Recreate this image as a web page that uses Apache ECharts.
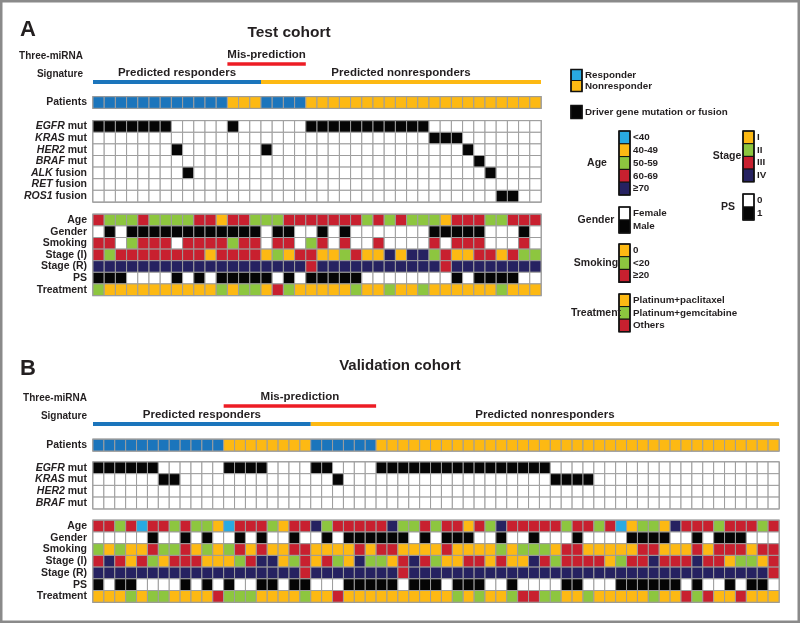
<!DOCTYPE html>
<html>
<head>
<meta charset="utf-8">
<script src="https://cdn.jsdelivr.net/npm/echarts@6/dist/echarts.min.js"></script>
<style>
  html, body { margin: 0; padding: 0; background: #fff; }
  #chart { width: 800px; height: 623px; }
</style>
</head>
<body>
<div id="chart"></div>
<script>
// 类别与配色
const responseLevels = ['Responder', 'Nonresponder'];
const ageLevels = ['<40', '40-49', '50-59', '60-69', '≥70'];
const genderLevels = ['Female', 'Male'];
const smokingLevels = ['0', '<20', '≥20'];
const stageLevels = ['I', 'II', 'III', 'IV'];
const psLevels = ['0', '1'];
const treatmentLevels = ['Platinum+paclitaxel', 'Platinum+gemcitabine', 'Others'];

const BLUE = '#1b75bc', CYAN = '#29aae1', YEL = '#fdb913', GRN = '#8dc63f',
  RED = '#c8202f', NAVY = '#262261', BLK = '#050505', WHT = '#ffffff', MISRED = '#ed1c24';
const patientColors = [BLUE, YEL];
const ageColors = [CYAN, YEL, GRN, RED, NAVY];
const genderColors = [WHT, BLK];
const smokingColors = [YEL, GRN, RED];
const stageColors = [YEL, GRN, RED, NAVY];
const psColors = [WHT, BLK];
const treatmentColors = [YEL, GRN, RED];

const clinicalRows = ['Age', 'Gender', 'Smoking', 'Stage (I)', 'Stage (R)', 'PS', 'Treatment'];
const clinicalPalettes = [ageColors, genderColors, smokingColors, stageColors, stageColors, psColors, treatmentColors];

// ---------- A: Test cohort (40 patients) ----------
// 0 = responder, 1 = nonresponder
const patientsA = [0,0,0,0,0,0,0,0,0,0,0,0,1,1,1,0,0,0,0,1,1,1,1,1,1,1,1,1,1,1,1,1,1,1,1,1,1,1,1,1];
const predRespEndA = 15;      // predicted responders: columns 0..14
const misA = [12, 19];        // mis-prediction span
const mutRowsA = ['EGFR mut', 'KRAS mut', 'HER2 mut', 'BRAF mut', 'ALK fusion', 'RET fusion', 'ROS1 fusion'];
const egfrA = [0,1,2,3,4,5,6,12,19,20,21,22,23,24,25,26,27,28,29];
const krasA = [30,31,32];
const her2A = [7,15,33];
const brafA = [34];
const alkA = [8,35];
const retA = [];
const ros1A = [36,37];
const ageA = [3,2,2,2,3,2,2,2,2,3,3,1,3,3,2,2,2,3,3,3,3,3,3,3,2,3,2,3,2,2,2,1,3,3,3,2,2,3,3,3];
const genderA = [0,1,0,1,1,1,1,1,1,1,1,1,1,1,1,0,1,1,0,0,1,0,1,0,0,0,0,0,0,0,1,1,1,1,1,0,0,0,1,0];
const smokingA = [2,2,null,1,2,2,2,null,2,2,2,2,1,2,2,null,2,2,null,1,2,null,2,null,null,2,null,null,null,null,2,null,2,2,2,null,null,null,2,null];
const stageA = [2,1,2,2,2,2,2,2,2,2,0,2,2,2,2,0,1,0,2,2,0,0,1,2,0,0,3,0,3,3,1,2,0,0,2,2,0,2,1,1];
const stageRA = [3,3,3,3,3,3,3,3,3,3,3,3,3,3,3,3,3,3,3,2,3,3,3,3,3,3,3,3,3,3,3,2,3,3,3,3,3,3,3,3];
const psA = [1,1,1,0,0,0,0,1,0,1,0,1,1,1,1,1,0,1,0,1,1,1,1,1,0,0,0,0,0,0,0,0,1,0,1,1,1,1,0,0];
const treatmentA = [1,0,0,0,0,0,0,0,0,0,0,1,0,1,1,0,2,1,0,0,0,0,0,1,0,0,1,0,0,1,0,0,0,0,0,0,1,0,0,0];

// ---------- B: Validation cohort (63 patients) ----------
const patientsB = [0,0,0,0,0,0,0,0,0,0,0,0,1,1,1,1,1,1,1,1,0,0,0,0,0,0,1,1,1,1,1,1,1,1,1,1,1,1,1,1,1,1,1,1,1,1,1,1,1,1,1,1,1,1,1,1,1,1,1,1,1,1,1];
const predRespEndB = 20;
const misB = [12, 26];
const mutRowsB = ['EGFR mut', 'KRAS mut', 'HER2 mut', 'BRAF mut'];
const egfrB = [0,1,2,3,4,5,12,13,14,15,20,21,26,27,28,29,30,31,32,33,34,35,36,37,38,39,40,41];
const krasB = [6,7,22,42,43,44,45];
const her2B = [];
const brafB = [];
const ageB = [3,3,2,3,0,3,3,2,3,2,2,1,0,3,3,3,2,1,3,3,4,2,3,3,3,3,3,4,2,2,3,2,3,3,1,3,2,4,3,3,3,3,3,2,3,3,2,3,0,1,2,2,1,4,3,3,3,2,3,3,3,2,3];
const genderB = [0,0,0,0,0,1,0,0,1,0,1,0,0,1,0,1,0,0,1,0,0,1,0,1,1,1,1,1,1,0,1,0,1,1,1,0,0,1,0,0,1,0,0,0,1,0,0,0,0,1,1,1,1,0,0,1,0,1,1,1,0,0,0];
const smokingB = [1,0,1,0,0,2,1,1,2,0,1,0,1,2,0,2,0,0,2,2,0,0,0,0,2,0,2,2,0,0,0,0,2,0,0,0,0,1,0,1,1,1,0,2,2,0,0,0,0,0,2,2,0,0,0,2,0,2,2,2,0,2,2];
const stageB = [2,3,2,0,2,1,0,2,2,2,0,0,0,1,2,3,3,0,1,2,0,2,1,0,3,1,1,0,2,3,2,1,0,0,2,2,0,2,0,0,3,2,1,2,2,2,2,0,1,2,2,3,2,2,2,3,2,2,0,1,1,0,2];
const stageRB = [3,3,3,3,3,3,3,3,3,3,3,3,3,3,3,3,3,3,3,2,3,3,3,3,3,3,3,3,2,3,3,3,3,3,3,3,3,3,3,3,3,3,3,3,3,3,3,3,3,3,3,3,3,3,3,3,3,3,3,3,3,3,2];
const psB = [1,0,1,1,0,0,0,0,1,0,1,0,1,0,0,1,1,0,1,1,0,0,0,1,1,1,1,1,0,1,1,1,0,1,1,1,0,0,1,0,0,0,0,1,1,0,0,0,1,1,1,1,1,1,0,1,0,0,1,0,1,1,0];
const treatmentB = [0,0,0,1,0,1,1,0,0,0,0,2,1,1,1,0,0,0,0,1,0,0,2,0,0,0,0,0,0,0,0,0,0,1,0,1,0,0,1,2,2,1,1,0,0,1,0,0,0,0,0,1,0,0,2,1,2,0,0,2,0,0,0];

const FONT = "'Liberation Sans', Arial, sans-serif";
const TXT = '#231f20';
const CELL_STROKE = '#9d9d9d';

const grids = [], xAxes = [], yAxes = [], series = [];

function cellRender(params, api) {
  const p = api.coord([api.value(0), api.value(1)]);
  const s = api.size([1, 1]);
  return {
    type: 'rect',
    shape: {x: p[0] - s[0] / 2, y: p[1] - s[1] / 2, width: s[0], height: s[1]},
    style: {fill: api.visual('color'), stroke: CELL_STROKE, lineWidth: 1}
  };
}

// 一个热图块：rows 为行名，colorAt(r, c) 给出颜色
function addBlock(box, rows, n, colorAt, labelFmt) {
  const gi = grids.length;
  grids.push({left: box.left, top: box.top, width: box.width, height: box.height,
    show: true, borderColor: '#8f8f8f', borderWidth: 1.5, backgroundColor: 'transparent'});
  xAxes.push({gridIndex: gi, type: 'category', data: [...Array(n).keys()], show: false});
  yAxes.push({gridIndex: gi, type: 'category', data: rows, inverse: true,
    axisLine: {show: false}, axisTick: {show: false},
    axisLabel: {interval: 0, margin: box.margin || 6, fontFamily: FONT, fontSize: 10.5, fontWeight: 'bold', color: TXT,
      formatter: labelFmt, rich: {i: {fontStyle: 'italic', fontWeight: 'bold', fontFamily: FONT, fontSize: 10.5, color: TXT}}}});
  const data = [];
  rows.forEach((r, ri) => {
    for (let c = 0; c < n; c++) data.push({value: [c, ri], itemStyle: {color: colorAt(ri, c)}});
  });
  series.push({type: 'custom', xAxisIndex: gi, yAxisIndex: gi, renderItem: cellRender, data, silent: true});
}

function mutLabel(v) {
  const k = v.indexOf(' ');
  return '{i|' + v.slice(0, k) + '} ' + v.slice(k + 1);
}

function addPanel(cfg) {
  const n = cfg.patients.length;
  // 签名线
  const gi = grids.length;
  grids.push({left: cfg.left, top: cfg.sigTop, width: cfg.width, height: 36});
  xAxes.push({gridIndex: gi, type: 'value', min: 0, max: n, show: false});
  yAxes.push({gridIndex: gi, type: 'category', data: ['Three-miRNA', 'Signature'], inverse: true,
    axisLine: {show: false}, axisTick: {show: false},
    axisLabel: {interval: 0, margin: cfg.sigMargin, fontFamily: FONT, fontSize: 10, fontWeight: 'bold', color: TXT}});
  const sigItems = [
    {value: [cfg.mis[0], cfg.mis[1], 0], text: 'Mis-prediction', color: MISRED, lw: 3.5},
    {value: [0, cfg.respEnd, 1], text: 'Predicted responders', color: BLUE, lw: 4},
    {value: [cfg.respEnd, n, 1], text: 'Predicted nonresponders', color: YEL, lw: 4}
  ];
  series.push({type: 'custom', xAxisIndex: gi, yAxisIndex: gi, encode: {x: [0, 1], y: 2}, silent: true,
    data: sigItems,
    renderItem(params, api) {
      const it = sigItems[params.dataIndex];
      const a = api.coord([api.value(0), api.value(2)]);
      const b = api.coord([api.value(1), api.value(2)]);
      return {type: 'group', children: [
        {type: 'line', shape: {x1: a[0], y1: a[1] + cfg.lineOff, x2: b[0], y2: a[1] + cfg.lineOff},
          style: {stroke: it.color, lineWidth: it.lw}},
        {type: 'text', style: {x: (a[0] + b[0]) / 2, y: a[1] - 1, text: it.text, align: 'center', verticalAlign: 'middle',
          fontFamily: FONT, fontSize: 11.5, fontWeight: 'bold', fill: TXT}}
      ]};
    }});
  // 患者行
  addBlock({left: cfg.left, top: cfg.patTop, width: cfg.width, height: cfg.rowH}, ['Patients'], n,
    (r, c) => patientColors[cfg.patients[c]]);
  // 驱动基因
  addBlock({left: cfg.left, top: cfg.mutTop, width: cfg.width, height: cfg.rowH * cfg.mutRows.length},
    cfg.mutRows, n, (r, c) => cfg.mutations[r].includes(c) ? BLK : WHT, mutLabel);
  // 临床特征
  addBlock({left: cfg.left, top: cfg.clinTop, width: cfg.width, height: cfg.rowH * clinicalRows.length},
    clinicalRows, n, (r, c) => {
      const v = cfg.clinical[r][c];
      return v === null ? WHT : clinicalPalettes[r][v];
    });
}

addPanel({left: 93, width: 448, sigTop: 47, sigMargin: 10, lineOff: 8, patTop: 96.7, mutTop: 120.7, clinTop: 214.3, rowH: 11.6,
  patients: patientsA, respEnd: predRespEndA, mis: misA, mutRows: mutRowsA,
  mutations: [egfrA, krasA, her2A, brafA, alkA, retA, ros1A],
  clinical: [ageA, genderA, smokingA, stageA, stageRA, psA, treatmentA]});

addPanel({left: 93, width: 686, sigTop: 389, sigMargin: 6, lineOff: 8, patTop: 439.3, mutTop: 462, clinTop: 520.3, rowH: 11.7,
  patients: patientsB, respEnd: predRespEndB, mis: misB, mutRows: mutRowsB,
  mutations: [egfrB, krasB, her2B, brafB],
  clinical: [ageB, genderB, smokingB, stageB, stageRB, psB, treatmentB]});

// 图例
const graphics = [];
function txt(x, y, text, size, align, weight) {
  graphics.push({type: 'text', x, y, style: {text, fontFamily: FONT, fontSize: size, fontWeight: weight || 'bold',
    fill: TXT, align: align || 'left', verticalAlign: 'middle'}});
}
function legendBlock(x, y, h, colors, labels, title, titleX) {
  colors.forEach((c, i) => {
    graphics.push({type: 'rect', shape: {x, y: y + i * h, width: 11, height: h},
      style: {fill: c, stroke: '#111', lineWidth: 1}});
    txt(x + 14, y + i * h + h / 2, labels[i], 9.8);
  });
  graphics.push({type: 'rect', shape: {x, y, width: 11, height: h * colors.length},
    style: {fill: 'none', stroke: '#111', lineWidth: 1.6}});
  if (title) txt(titleX, y + h * colors.length / 2, title, 10.5, 'center');
}
legendBlock(571, 69.5, 11, [CYAN, YEL], responseLevels);
legendBlock(571, 105.5, 13, [BLK], ['Driver gene mutation or fusion']);
legendBlock(619, 131, 12.8, ageColors, ageLevels, 'Age', 597);
legendBlock(619, 207, 13, genderColors, genderLevels, 'Gender', 596);
legendBlock(619, 244, 12.7, smokingColors, smokingLevels, 'Smoking', 596);
legendBlock(619, 294, 12.6, treatmentColors, treatmentLevels, 'Treatment', 596);
legendBlock(743, 131, 12.7, stageColors, stageLevels, 'Stage', 727);
legendBlock(743, 194, 13, psColors, psLevels, 'PS', 728);

// 标题
txt(20, 30, 'A', 22, 'left');
txt(289, 33, 'Test cohort', 15.5, 'center');
txt(20, 369, 'B', 22, 'left');
txt(400, 366, 'Validation cohort', 15, 'center');
graphics.push({type: 'rect', shape: {x: 1.25, y: 1.25, width: 797.5, height: 620.5},
  style: {fill: 'none', stroke: '#8a8a8a', lineWidth: 2.5}});

const chart = echarts.init(document.getElementById('chart'));
chart.setOption({
  animation: false,
  backgroundColor: '#fff',
  grid: grids,
  xAxis: xAxes,
  yAxis: yAxes,
  series,
  graphic: graphics
});
</script>
</body>
</html>
